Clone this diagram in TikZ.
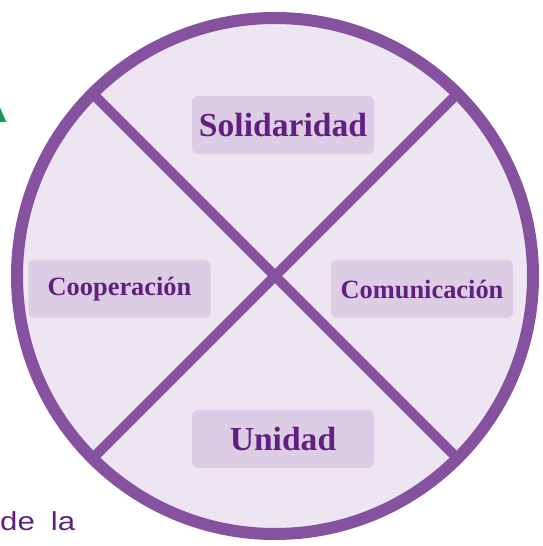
\documentclass[tikz,border=0pt]{standalone}
\usepackage{fontspec}
\setmainfont{Liberation Serif}
\newfontfamily\pagefont[FakeStretch=1.2]{Liberation Sans}

\definecolor{ringpurple}{RGB}{134,82,160}
\definecolor{wheelfill}{RGB}{237,229,242}
\definecolor{tagfill}{RGB}{220,205,228}
\definecolor{tagtext}{RGB}{96,32,128}
\definecolor{headgreen}{RGB}{26,150,90}

\tikzset{
  valuebox/.style={fill=tagfill, rounded corners=6pt, minimum width=182pt,
    minimum height=58pt, text=tagtext, inner sep=0pt,
    font=\bfseries\fontsize{26.4}{30}\selectfont},
  bigvalue/.style={valuebox, font=\bfseries\fontsize{33.6}{38}\selectfont},
}

\begin{document}
\begin{tikzpicture}[x=1pt, y=1pt]
    \useasboundingbox (0,0) rectangle (542,546);
    \clip (0,0) rectangle (542,546);

    % Wheel
    \coordinate (hub) at (275,270);
    \coordinate (ne) at ([shift={(hub)}]45:258);
    \coordinate (nw) at ([shift={(hub)}]135:258);
    \coordinate (sw) at ([shift={(hub)}]225:258);
    \coordinate (se) at ([shift={(hub)}]315:258);

    \fill[wheelfill] (hub) circle (258);
    \draw[ringpurple, line width=10pt] (nw) -- (se);
    \draw[ringpurple, line width=10pt] (ne) -- (sw);
    \draw[ringpurple, line width=12pt] (hub) circle (258);

    % Values
    \node[bigvalue] (solidaridad) at (283,421) {Solidaridad};
    \node[valuebox] (cooperacion) at (119.5,257) {Cooperación};
    \node[valuebox] (comunicacion) at (422,257) {Comunicación};
    \node[bigvalue] (unidad) at (283,107) {Unidad};

    % Bits of the page around it
    \node[anchor=base east, inner sep=0pt, text=headgreen,
      font=\pagefont\bfseries\fontsize{40}{48}\selectfont] (heading) at (8,423) {A};
    \node[anchor=base west, inner sep=0pt, text=tagtext,
      font=\pagefont\fontsize{26}{30}\selectfont] (dela) at (0,16) {de\hspace{16pt}la};
\end{tikzpicture}
\end{document}
